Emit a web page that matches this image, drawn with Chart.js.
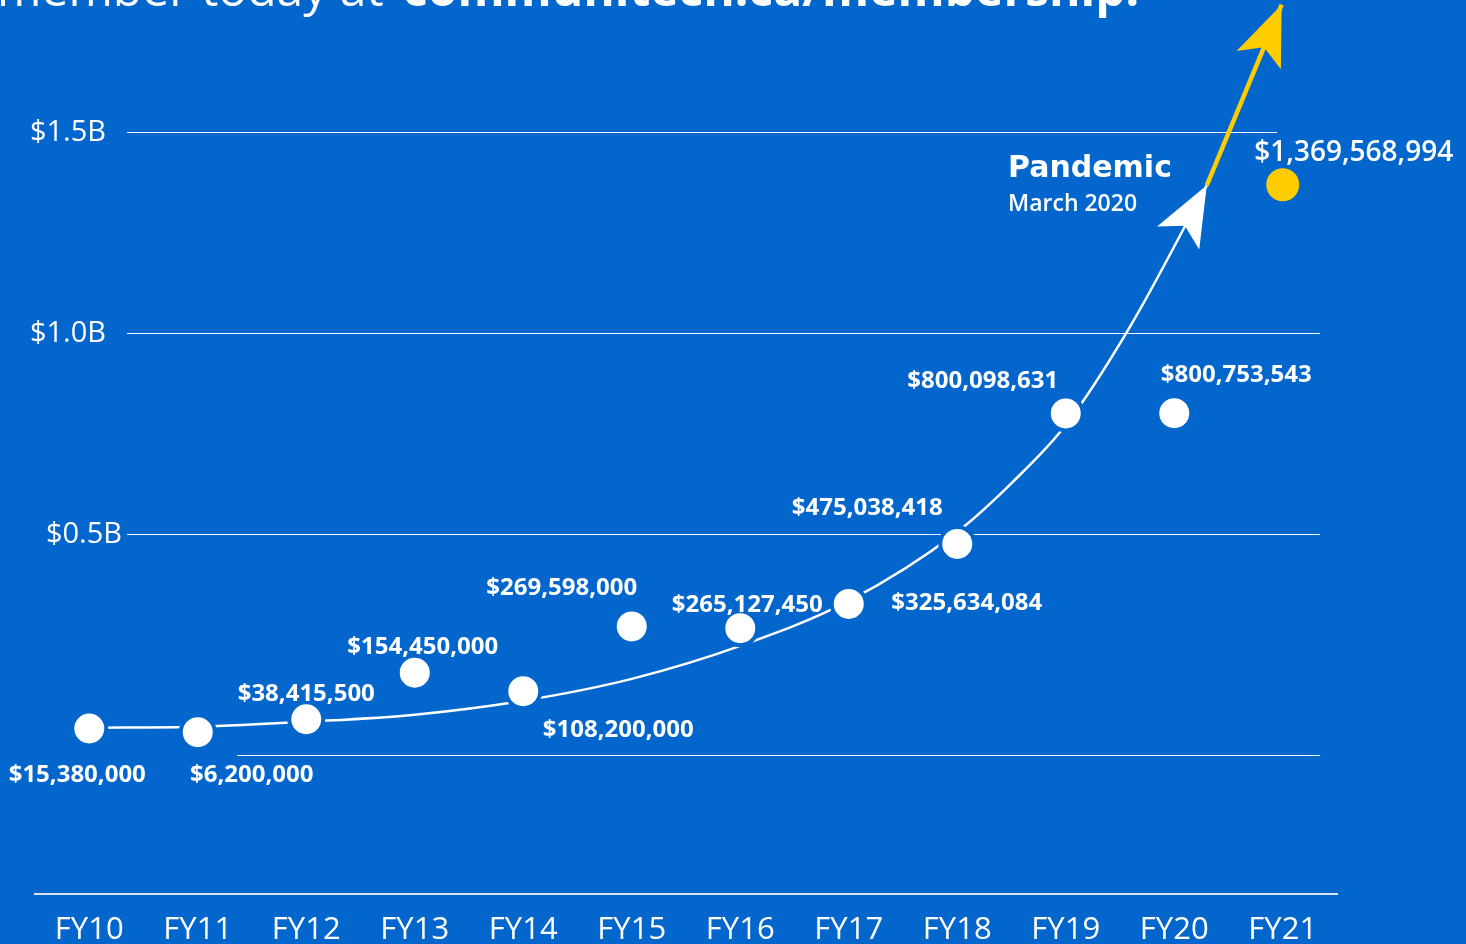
<!DOCTYPE html>
<html>
<head>
<meta charset="utf-8">
<title>Communitech funding FY10–FY21</title>
<script src="https://cdn.jsdelivr.net/npm/chart.js@4.4.0/dist/chart.umd.min.js"></script>
<style>
  html, body { margin: 0; padding: 0; background: #0366cc; overflow: hidden; }
  #wrap { position: relative; width: 1466px; height: 944px; }
</style>
</head>
<body>
<div id="wrap"><canvas id="chart"></canvas></div>
<script>
// values
const years = ["FY10", "FY11", "FY12", "FY13", "FY14", "FY15", "FY16", "FY17", "FY18", "FY19", "FY20", "FY21"];
const funding = [15380000, 6200000, 38415500, 154450000, 108200000, 269598000, 265127450, 325634084, 475038418, 800098631, 800753543, 1369568994];
const valueLabels = ["$15,380,000", "$6,200,000", "$38,415,500", "$154,450,000", "$108,200,000", "$269,598,000",
  "$265,127,450", "$325,634,084", "$475,038,418", "$800,098,631", "$800,753,543", "$1,369,568,994"];

// growth curve (x = year index, y = billions)
const trendX = [0, 1, 2, 3, 4, 5, 6, 7, 8, 8.51, 9, 9.59, 10.3];
const trendY = [0.0174, 0.0199, 0.0323, 0.0498, 0.0846, 0.139, 0.221, 0.333, 0.505, 0.629, 0.771, 1.015, 1.368];
// pandemic arrow
const pandemicX = [10.3, 10.99];
const pandemicY = [1.368, 1.818];

const yTicks = [0.5, 1.0, 1.5];
const yTickLabels = ["$0.5B", "$1.0B", "$1.5B"];

// ---- styling ----
const BG = "#0366cc";
const YELLOW = "#ffcc00";
const FONT = "'Open Sans', 'Noto Sans', sans-serif";
const labelDx = [-12, 54, 0, 8, 95, -70, 7, 118, -90, -83, 62, 71];
const labelDy = [45, 41, -27, -27, 37, -40, -25, -3, -38, -34, -40, -34];
const gridLines = [
  { v: -0.05, x0: 237, x1: 1320 },
  { v: 0.5, x0: 127, x1: 1320 },
  { v: 1.0, x0: 127, x1: 1320 },
  { v: 1.5, x0: 127, x1: 1277 },
];
const yLabelRight = [122, 106, 106];

const bgPlugin = {
  id: "bg",
  beforeDraw(chart) {
    const { ctx, width, height } = chart;
    ctx.save();
    ctx.fillStyle = BG;
    ctx.fillRect(0, 0, width, height);
    ctx.restore();
  },
};

const gridPlugin = {
  id: "customGrid",
  beforeDatasetsDraw(chart) {
    const { ctx } = chart;
    const y = chart.scales.y;
    ctx.save();
    ctx.strokeStyle = "rgba(255,255,255,0.95)";
    ctx.lineWidth = 1.2;
    gridLines.forEach((g) => {
      const py = Math.round(y.getPixelForValue(g.v)) + 0.5;
      ctx.beginPath();
      ctx.moveTo(g.x0, py);
      ctx.lineTo(g.x1, py);
      ctx.stroke();
    });
    ctx.fillStyle = "#fff";
    ctx.font = "400 29px " + FONT;
    ctx.textAlign = "right";
    ctx.textBaseline = "alphabetic";
    yTicks.forEach((v, i) => {
      const py = y.getPixelForValue(v);
      ctx.fillText(yTickLabels[i], yLabelRight[i], py + 9);
    });
    ctx.restore();
  },
};

function arrowHead(ctx, pts, color) {
  const n = pts.length;
  const p = pts[n - 1], q = pts[n - 2];
  let ax = p.x - q.x, ay = p.y - q.y;
  const len = Math.hypot(ax, ay);
  ax /= len; ay /= len;
  const nx = -ay, ny = ax;
  ctx.fillStyle = color;
  ctx.beginPath();
  ctx.moveTo(p.x, p.y);
  ctx.lineTo(p.x - ax * 60 + nx * 24, p.y - ay * 60 + ny * 24);
  ctx.lineTo(p.x - ax * 46, p.y - ay * 46);
  ctx.lineTo(p.x - ax * 60 - nx * 24, p.y - ay * 60 - ny * 24);
  ctx.closePath();
  ctx.fill();
}

const overlayPlugin = {
  id: "overlay",
  afterDatasetsDraw(chart) {
    const { ctx } = chart;
    ctx.save();
    arrowHead(ctx, chart.getDatasetMeta(1).data, "#fff");
    arrowHead(ctx, chart.getDatasetMeta(2).data, YELLOW);

    // value labels
    ctx.fillStyle = "#fff";
    ctx.textAlign = "center";
    ctx.textBaseline = "alphabetic";
    chart.getDatasetMeta(0).data.forEach((el, i) => {
      const last = i === funding.length - 1;
      const size = last ? 28 : 24;
      ctx.font = (last ? "600 " : "700 ") + size + "px " + FONT;
      ctx.fillText(valueLabels[i], el.x + labelDx[i], el.y + labelDy[i] + size * 0.36);
    });

    // pandemic note
    ctx.textAlign = "left";
    ctx.font = "700 30px 'DejaVu Sans', " + FONT;
    ctx.fillText("Pandemic", 1008, 177);
    ctx.font = "600 23px " + FONT;
    ctx.fillText("March 2020", 1008, 211);

    // heading (cut off at the top of the frame)
    ctx.font = "400 48px " + FONT;
    ctx.fillText("member today at", -3, 6);
    ctx.font = "700 48px " + FONT;
    ctx.fillText("communitech.ca/membership.", 403, 6);
    ctx.restore();
  },
};

const dots = funding.map((v, i) => ({ x: i, y: v / 1e9 }));
const trend = trendX.map((x, i) => ({ x, y: trendY[i] }));
const pandemic = pandemicX.map((x, i) => ({ x, y: pandemicY[i] }));

new Chart(document.getElementById("chart"), {
  type: "scatter",
  data: {
    datasets: [
      {
        label: "Funding",
        data: dots,
        pointRadius: funding.map((_, i) => (i === funding.length - 1 ? 18.5 : 17)),
        pointBackgroundColor: funding.map((_, i) => (i === funding.length - 1 ? YELLOW : "#fff")),
        pointBorderColor: BG,
        pointBorderWidth: 4,
        order: 0,
        clip: false,
      },
      {
        type: "line",
        label: "Growth",
        data: trend,
        borderColor: "#fff",
        borderWidth: 2.5,
        pointRadius: 0,
        cubicInterpolationMode: "monotone",
        fill: false,
        order: 1,
        clip: false,
      },
      {
        type: "line",
        label: "Pandemic",
        data: pandemic,
        borderColor: YELLOW,
        borderWidth: 4.5,
        pointRadius: 0,
        fill: false,
        order: 1,
        clip: false,
      },
    ],
  },
  options: {
    responsive: true,
    maintainAspectRatio: false,
    animation: false,
    layout: { padding: { left: 35, right: 129, top: 10.4, bottom: -22 } },
    plugins: { legend: { display: false }, tooltip: { enabled: false } },
    scales: {
      x: {
        type: "linear",
        min: -0.5,
        max: 11.5,
        afterBuildTicks: (s) => {
          s.ticks = years.map((_, i) => ({ value: i }));
        },
        ticks: {
          color: "#fff",
          font: { family: FONT, size: 31, lineHeight: 1 },
          padding: 20.5,
          maxRotation: 0,
          autoSkip: false,
          callback: (v) => years[v],
        },
        grid: { display: false, drawTicks: false },
        border: { display: true, color: "#dbe3ef", width: 2 },
      },
      y: { display: false, min: -0.3968, max: 1.7736 },
    },
  },
  plugins: [bgPlugin, gridPlugin, overlayPlugin],
});
</script>
</body>
</html>
